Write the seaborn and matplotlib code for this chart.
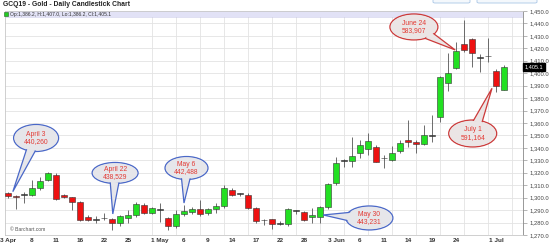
import numpy as np
import pandas as pd
import matplotlib
matplotlib.use("Agg")
import matplotlib.pyplot as plt
import seaborn as sns
from matplotlib.patches import Ellipse, Polygon, FancyBboxPatch, Rectangle
from matplotlib.transforms import IdentityTransform

# ---------------- data ----------------
dates = [
    "2019-04-03", "2019-04-04", "2019-04-05", "2019-04-08", "2019-04-09", "2019-04-10",
    "2019-04-11", "2019-04-12", "2019-04-15", "2019-04-16", "2019-04-17", "2019-04-18",
    "2019-04-22", "2019-04-23", "2019-04-24", "2019-04-25", "2019-04-26", "2019-04-29",
    "2019-04-30", "2019-05-01", "2019-05-02", "2019-05-03", "2019-05-06", "2019-05-07",
    "2019-05-08", "2019-05-09", "2019-05-10", "2019-05-13", "2019-05-14", "2019-05-15",
    "2019-05-16", "2019-05-17", "2019-05-20", "2019-05-21", "2019-05-22", "2019-05-23",
    "2019-05-24", "2019-05-28", "2019-05-29", "2019-05-30", "2019-05-31", "2019-06-03",
    "2019-06-04", "2019-06-05", "2019-06-06", "2019-06-07", "2019-06-10", "2019-06-11",
    "2019-06-12", "2019-06-13", "2019-06-14", "2019-06-17", "2019-06-18", "2019-06-19",
    "2019-06-20", "2019-06-21", "2019-06-24", "2019-06-25", "2019-06-26", "2019-06-27",
    "2019-06-28", "2019-07-01", "2019-07-02",
]
opens = [
    1303.5, 1301.3, 1302.0, 1302.1, 1307.5, 1314.2, 1318.2, 1302.1, 1300.2, 1296.8,
    1284.7, 1282.2, 1283.6, 1282.8, 1279.4, 1283.9, 1286.0, 1294.5, 1288.0, 1290.3,
    1284.0, 1277.2, 1286.7, 1288.5, 1291.2, 1287.4, 1290.6, 1293.0, 1306.2, 1303.3,
    1302.5, 1292.0, 1282.0, 1282.6, 1278.8, 1278.8, 1289.5, 1288.7, 1284.2, 1284.7,
    1292.2, 1312.0, 1330.0, 1329.8, 1335.7, 1339.1, 1341.0, 1331.5, 1330.3, 1337.8,
    1346.3, 1345.0, 1343.1, 1350.0, 1364.6, 1391.9, 1404.0, 1423.2, 1427.2, 1412.3,
    1413.6, 1402.0, 1386.2,
]
highs = [
    1304.8, 1302.0, 1304.8, 1314.0, 1316.5, 1321.0, 1319.5, 1303.0, 1300.8, 1297.5,
    1286.0, 1285.0, 1287.4, 1283.5, 1286.0, 1290.0, 1296.8, 1295.5, 1292.5, 1295.5,
    1284.6, 1290.0, 1294.5, 1292.5, 1298.5, 1291.5, 1295.5, 1310.5, 1307.5, 1304.0,
    1303.5, 1292.5, 1283.0, 1283.0, 1281.0, 1291.5, 1290.0, 1289.5, 1292.0, 1293.0,
    1312.0, 1333.0, 1331.0, 1349.0, 1346.0, 1352.2, 1342.0, 1334.3, 1341.5, 1346.0,
    1362.4, 1346.0, 1358.4, 1366.4, 1397.5, 1416.0, 1425.3, 1442.8, 1428.0, 1415.4,
    1428.0, 1403.0, 1407.0,
]
lows = [
    1299.4, 1290.6, 1295.5, 1301.5, 1306.0, 1313.0, 1298.5, 1299.5, 1290.2, 1281.5,
    1281.5, 1279.5, 1282.0, 1274.0, 1277.0, 1280.0, 1284.5, 1287.0, 1286.5, 1280.6,
    1274.0, 1276.0, 1285.0, 1286.5, 1285.5, 1286.0, 1288.0, 1291.5, 1301.0, 1301.0,
    1290.5, 1280.0, 1278.0, 1274.5, 1278.0, 1277.5, 1287.0, 1281.5, 1280.0, 1279.5,
    1291.0, 1310.5, 1325.0, 1324.9, 1331.5, 1334.5, 1328.5, 1323.6, 1329.5, 1335.5,
    1341.0, 1336.0, 1342.0, 1345.0, 1361.0, 1386.0, 1403.0, 1417.3, 1405.3, 1401.2,
    1409.3, 1385.2, 1386.2,
]
closes = [
    1301.5, 1300.5, 1302.2, 1307.5, 1313.6, 1319.8, 1298.7, 1300.2, 1296.8, 1282.2,
    1282.2, 1282.0, 1283.4, 1279.4, 1285.0, 1286.0, 1295.0, 1287.4, 1291.4, 1290.6,
    1277.5, 1286.6, 1289.3, 1291.0, 1287.0, 1290.6, 1293.3, 1307.5, 1302.1, 1303.5,
    1291.4, 1281.0, 1281.8, 1278.8, 1279.0, 1290.6, 1289.8, 1282.0, 1286.0, 1292.2,
    1311.0, 1327.6, 1329.5, 1333.7, 1342.3, 1345.5, 1328.9, 1331.7, 1336.1, 1343.7,
    1344.5, 1343.1, 1350.4, 1349.6, 1396.7, 1400.4, 1418.1, 1418.7, 1416.0, 1412.6,
    1413.9, 1389.7, 1405.1,
]
tick_index = [0, 3, 6, 9, 12, 15, 19, 22, 25, 28, 31, 34, 37, 41, 44, 47, 50, 53, 56, 61]
tick_labels = ["3 Apr", "8", "11", "16", "22", "25", "1 May", "6", "9", "14", "17",
               "22", "28", "3 Jun", "6", "11", "14", "19", "24", "1 Jul"]
y_ticks = list(range(1270, 1451, 10))

# annotation bubbles: label, tip (bar position, price), centre offset (px), size (px), colour
ann_text = ["April 3\n440,260", "April 22\n438,529", "May 6\n442,488",
            "May 30\n443,231", "June 24\n583,907", "July 1\n591,164"]
ann_tip_x = [0.6, 13.1, 22.0, 39.4, 55.9, 60.5]
ann_tip_y = [1304.8, 1286.9, 1295.7, 1286.1, 1418.7, 1387.9]
ann_dx = [23.3, 2.3, 2.5, 46.2, -41.3, -19.3]
ann_dy = [53.7, 41.0, 35.0, -3.0, 23.0, -45.2]
ann_w = [45, 46, 43, 47, 48, 48]
ann_h = [27, 21, 23, 24, 26, 27]
ann_edge = ["#4a68c8", "#4a68c8", "#4a68c8", "#4a68c8", "#cc3a3a", "#cc3a3a"]

df = pd.DataFrame({"date": pd.to_datetime(dates), "open": opens, "high": highs,
                   "low": lows, "close": closes})
df["pos"] = np.arange(len(df))

# ---------------- style ----------------
sns.set_theme(style="whitegrid")
plt.rcParams["font.family"] = ["Liberation Sans", "DejaVu Sans"]

fig = plt.figure(figsize=(5.5, 2.49), dpi=100)
fig.patch.set_facecolor("white")
ax = fig.add_axes([5 / 550, 1 - 235 / 249, 518 / 550, 224 / 249])
ax.set_facecolor("white")
ax.set_xlim(-0.375, 64.375)
ax.set_ylim(1270, 1450)

# grid
ax.set_yticks(y_ticks)
ax.set_yticklabels([f"{v:,.1f}" for v in y_ticks])
ax.set_xticks(tick_index)
ax.set_xticklabels(tick_labels)
ax.set_xticks(np.arange(0, 65, 3), minor=True)
ax.grid(False)
ax.grid(True, which="minor", axis="x", color="#e3e3e3", lw=0.6)
ax.grid(True, which="major", axis="y", color="#e3e3e3", lw=0.6)
ax.set_axisbelow(True)

ax.yaxis.tick_right()
ax.tick_params(axis="y", which="major", right=True, left=False, length=3, width=0.5,
               color="#999999", labelsize=4.2, labelcolor="#444444", pad=1.5)
ax.tick_params(axis="x", which="both", length=0, labelsize=4.6, labelcolor="#333333", pad=2.5)
for lab in ax.get_xticklabels():
    lab.set_fontweight("bold")
for side in ["left", "top", "bottom", "right"]:
    ax.spines[side].set_color("#c8c8c8")
    ax.spines[side].set_linewidth(0.6)
ax.spines["right"].set_color("#888888")

# top legend band
ax.axhspan(1444.8, 1450, color="#e2e2f6", zorder=1, lw=0)
ax.axhline(1444.8, color="#c8c8e8", lw=0.4, zorder=1)

# candles
up = df["close"] >= df["open"]
doji = (df["close"] - df["open"]).abs() < 0.6
colors = np.where(doji, "#333333", np.where(up, "#22e022", "#ee1111"))
bottoms = np.minimum(df["open"], df["close"])
heights = np.maximum((df["close"] - df["open"]).abs(), 0.6)
ax.vlines(df["pos"], df["low"], df["high"], color="#555555", lw=0.6, zorder=3)
ax.bar(df["pos"], heights, bottom=bottoms, width=0.8, color=colors,
       edgecolor="#333333", linewidth=0.4, zorder=4)

# last price box
ax.text(1.003, closes[-1], f"{closes[-1]:,.1f}", transform=ax.get_yaxis_transform(),
        ha="left", va="center", fontsize=4.0, color="white", zorder=20, clip_on=False,
        bbox=dict(boxstyle="square,pad=0.25", fc="black", ec="black"))

# bubbles
ident = IdentityTransform()
for txt, tx0, ty0, dx, dy, w, h, ec in zip(ann_text, ann_tip_x, ann_tip_y, ann_dx,
                                           ann_dy, ann_w, ann_h, ann_edge):
    tx, ty = ax.transData.transform((tx0, ty0))
    cx, cy = tx + dx, ty + dy
    a, b = w / 2, h / 2
    ux, uy = tx - cx, ty - cy
    n = np.hypot(ux, uy)
    ux, uy = ux / n, uy / n
    t = 1 / np.sqrt((ux / a) ** 2 + (uy / b) ** 2)
    bx, by = cx + 0.8 * t * ux, cy + 0.8 * t * uy
    px, py = -uy, ux
    hw = 4.5
    fill = "#e6e6ea" if ec.startswith("#4") else "#ebe5e5"
    e1 = Ellipse((cx, cy), w, h, transform=ident, fc=fill, ec=ec, lw=0.9, zorder=9, clip_on=False)
    poly = Polygon([(bx + px * hw, by + py * hw), (tx, ty), (bx - px * hw, by - py * hw)],
                   closed=True, transform=ident, fc=fill, ec=ec, lw=0.9, zorder=10, clip_on=False)
    e2 = Ellipse((cx, cy), w - 2, h - 2, transform=ident, fc=fill, ec="none", zorder=11, clip_on=False)
    for p in (e1, poly, e2):
        ax.add_artist(p)
    ax.text(cx, cy, txt, transform=ident, ha="center", va="center", fontsize=4.9,
            color="#e33b35", linespacing=1.15, zorder=12)

# titles and legend
fig.text(3 / 550, 1 - 5 / 249, "GCQ19 - Gold - Daily Candlestick Chart", ha="left", va="center",
         fontsize=4.9, fontweight="bold", color="#222222")
fig.patches.append(Rectangle((3.5 / 550, 1 - 16.5 / 249), 4 / 550, 4 / 249,
                             transform=fig.transFigure, fc="#22cc22", ec="#226622", lw=0.4))
fig.text(10 / 550, 1 - 14.5 / 249, "Op:1,386.2, H:1,407.0, Lo:1,386.2, Cl:1,405.1", ha="left",
         va="center", fontsize=3.6, color="#333333")
fig.text(10 / 550, 1 - 229 / 249, "\u00a9 Barchart.com", ha="left", va="center",
         fontsize=3.6, color="#555555")
for x0, x1 in [(433, 470), (477, 537)]:
    fig.patches.append(FancyBboxPatch((x0 / 550, 1 - 3 / 249), (x1 - x0) / 550, 4 / 249,
                                      boxstyle="round,pad=0,rounding_size=0.004",
                                      transform=fig.transFigure, fc="#f4f8fc", ec="#a9c6e6", lw=0.6))

fig.savefig("out.png", dpi=100)
